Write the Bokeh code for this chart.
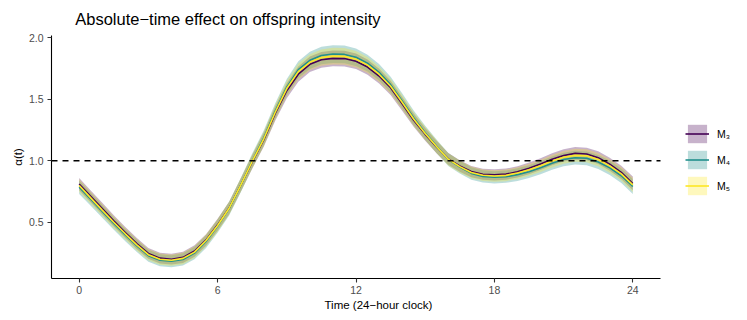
from bokeh.plotting import figure
from bokeh.models import Range1d, Legend, LegendItem, FixedTicker, ColumnDataSource, Title
from bokeh.embed import file_html
from bokeh.resources import INLINE

hours = [i * 0.5 for i in range(49)]

m3_fit = [0.810, 0.710, 0.610, 0.510, 0.416, 0.325, 0.245, 0.207, 0.198, 0.213,
          0.265, 0.355, 0.478, 0.615, 0.800, 0.990, 1.170, 1.385, 1.570, 1.705,
          1.785, 1.822, 1.834, 1.832, 1.810, 1.763, 1.690, 1.594, 1.463, 1.330,
          1.215, 1.110, 1.015, 0.957, 0.912, 0.890, 0.885, 0.891, 0.910, 0.938,
          0.973, 1.012, 1.043, 1.060, 1.055, 1.025, 0.972, 0.905, 0.815]
m4_fit = [0.785, 0.687, 0.588, 0.489, 0.395, 0.306, 0.227, 0.190, 0.181, 0.196,
          0.248, 0.342, 0.468, 0.610, 0.800, 0.998, 1.185, 1.405, 1.600, 1.742,
          1.818, 1.857, 1.869, 1.866, 1.843, 1.795, 1.720, 1.620, 1.487, 1.350,
          1.228, 1.117, 1.010, 0.948, 0.897, 0.872, 0.865, 0.870, 0.887, 0.911,
          0.943, 0.980, 1.010, 1.025, 1.020, 0.990, 0.942, 0.878, 0.790]
m5_fit = [0.798, 0.698, 0.598, 0.499, 0.405, 0.315, 0.235, 0.198, 0.190, 0.205,
          0.256, 0.350, 0.473, 0.613, 0.800, 0.994, 1.177, 1.395, 1.588, 1.726,
          1.802, 1.840, 1.852, 1.850, 1.827, 1.779, 1.705, 1.607, 1.476, 1.340,
          1.222, 1.114, 1.012, 0.952, 0.905, 0.882, 0.876, 0.881, 0.900, 0.926,
          0.959, 0.997, 1.028, 1.044, 1.040, 1.010, 0.958, 0.893, 0.803]

m3_se = [0.050, 0.048, 0.047, 0.046, 0.045, 0.045, 0.044, 0.044, 0.044, 0.045,
         0.046, 0.047, 0.049, 0.051, 0.053, 0.055, 0.057, 0.059, 0.061, 0.062,
         0.063, 0.064, 0.064, 0.064, 0.063, 0.062, 0.060, 0.058, 0.056, 0.054,
         0.052, 0.050, 0.048, 0.047, 0.046, 0.045, 0.045, 0.045, 0.046, 0.047,
         0.048, 0.049, 0.050, 0.051, 0.051, 0.052, 0.053, 0.054, 0.056]
m4_se = [0.055, 0.053, 0.052, 0.051, 0.050, 0.050, 0.049, 0.049, 0.049, 0.050,
         0.051, 0.052, 0.054, 0.056, 0.058, 0.060, 0.062, 0.064, 0.066, 0.068,
         0.070, 0.071, 0.072, 0.072, 0.071, 0.069, 0.067, 0.064, 0.062, 0.060,
         0.057, 0.055, 0.053, 0.052, 0.051, 0.050, 0.050, 0.050, 0.051, 0.052,
         0.053, 0.054, 0.055, 0.056, 0.056, 0.057, 0.058, 0.059, 0.061]
m5_se = [0.052, 0.050, 0.049, 0.048, 0.047, 0.047, 0.046, 0.046, 0.046, 0.047,
         0.048, 0.049, 0.051, 0.053, 0.055, 0.057, 0.059, 0.061, 0.063, 0.065,
         0.066, 0.067, 0.068, 0.068, 0.067, 0.065, 0.063, 0.061, 0.059, 0.057,
         0.054, 0.052, 0.050, 0.049, 0.048, 0.047, 0.047, 0.047, 0.048, 0.049,
         0.050, 0.051, 0.052, 0.053, 0.053, 0.054, 0.055, 0.056, 0.058]

model_labels = ["M\u2083", "M\u2084", "M\u2085"]
model_colors = ["#440154", "#21908C", "#FDE725"]
x_ticks = [0, 6, 12, 18, 24]
y_ticks = [0.5, 1.0, 1.5, 2.0]
reference_level = 1.0

FONT = "Liberation Sans"

W, H = 731, 316
LEFT, TOP, BOTTOM = 51, 34, 38
X_LO, X_HI = -1.2, 25.2          # panel limits of the time axis
PANEL_W = 609                     # pixel width of the data panel
px_per_hour = PANEL_W / (X_HI - X_LO)
x_frame_end = X_LO + (W - LEFT) / px_per_hour   # extra room on the right for the legend

p = figure(width=W, height=H, output_backend="svg", toolbar_location=None,
           x_range=Range1d(X_LO, x_frame_end), y_range=Range1d(0.041, 2.02),
           min_border_left=LEFT, min_border_right=0, min_border_top=TOP, min_border_bottom=BOTTOM,
           title="Absolute\u2212time effect on offspring intensity")
p.title.text_font = FONT
p.title.text_font_size = "16.5px"
p.title.text_font_style = "normal"
p.title.text_color = "black"
p.title.standoff = 15
p.title.align = "right"
p.title.offset = 351

p.xgrid.visible = False
p.ygrid.visible = False
p.outline_line_color = None

fits = [m3_fit, m4_fit, m5_fit]
ses = [m3_se, m4_se, m5_se]
ribbons = []
for fit, se, col in zip(fits, ses, model_colors):
    lo = [f - s for f, s in zip(fit, se)]
    hi = [f + s for f, s in zip(fit, se)]
    src = ColumnDataSource(dict(x=hours, lo=lo, hi=hi))
    r = p.varea(x="x", y1="lo", y2="hi", source=src, fill_color=col, fill_alpha=0.3)
    ribbons.append(r)

lines = []
for fit, col in zip(fits, model_colors):
    src = ColumnDataSource(dict(x=hours, y=fit))
    l = p.line(x="x", y="y", source=src, line_color=col, line_width=1.6)
    lines.append(l)

# horizontal reference line across the data panel
p.line(x=[X_LO, X_HI], y=[reference_level, reference_level], line_color="black",
       line_width=1.3, line_dash="6 5")

for ax in (p.xaxis[0], p.yaxis[0]):
    ax.axis_line_color = "black"
    ax.axis_line_width = 1.1
    ax.major_tick_line_color = "#333333"
    ax.major_tick_line_width = 1.1
    ax.major_tick_out = 4
    ax.major_tick_in = 0
    ax.minor_tick_line_color = None
    ax.major_label_text_font = FONT
    ax.major_label_text_font_size = "10.5px"
    ax.major_label_text_color = "#4d4d4d"
    ax.axis_label_text_font = FONT
    ax.axis_label_text_font_size = "11.5px"
    ax.axis_label_text_font_style = "normal"
    ax.axis_label_text_color = "black"
    ax.major_label_standoff = 3

p.xaxis.bounds = (X_LO, X_HI)
p.xaxis.ticker = FixedTicker(ticks=x_ticks)
p.yaxis.ticker = FixedTicker(ticks=y_ticks)
p.yaxis.major_label_overrides = {v: f"{v:.1f}" for v in y_ticks}
p.yaxis.major_label_standoff = 4
p.yaxis.axis_label = "\u03b1(t)"
p.yaxis.axis_label_standoff = 2

xlab = Title(text="Time (24\u2212hour clock)", align="left", offset=273,
             text_font=FONT, text_font_size="11.5px", text_font_style="normal",
             text_color="black", standoff=0)
p.add_layout(xlab, "below")

items = [LegendItem(label=lab, renderers=[rb, ln]) for lab, rb, ln in zip(model_labels, ribbons, lines)]
legend = Legend(items=items, location=(634, 81), glyph_width=24, glyph_height=23,
                spacing=3, label_standoff=8, label_text_font=FONT,
                label_text_font_size="10.5px", label_text_color="black",
                background_fill_alpha=0, border_line_color=None, padding=0, margin=0)
p.add_layout(legend, "center")

open("out.html", "w").write(file_html(p, INLINE))
